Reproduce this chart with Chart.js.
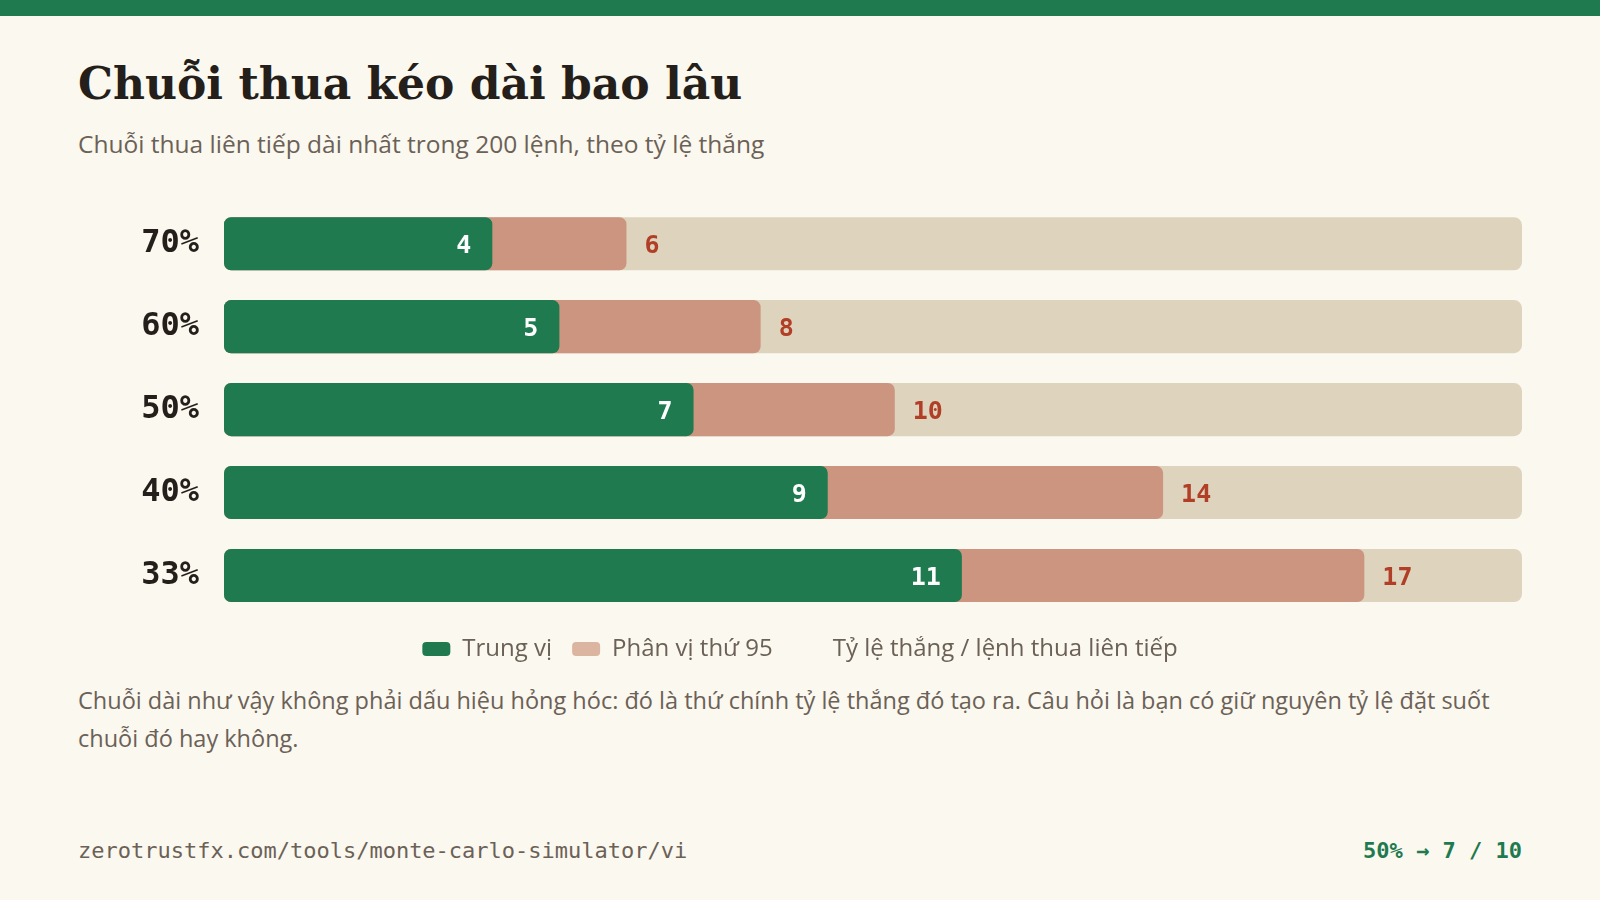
<!DOCTYPE html>
<html lang="vi">
<head>
<meta charset="utf-8">
<title>Chuỗi thua kéo dài bao lâu</title>
<script src="https://cdn.jsdelivr.net/npm/chart.js@4.4.1/dist/chart.umd.min.js"></script>
<style>
    html, body { margin: 0; padding: 0; }
    body {
        width: 1600px; height: 900px; position: relative; overflow: hidden;
        background: #fbf8f0; font-family: "Open Sans", sans-serif;
    }
    .topbar { position: absolute; left: 0; top: 0; width: 1600px; height: 16px; background: #1f7a4f; }
    h1 {
        position: absolute; left: 78px; top: 56px; margin: 0;
        font: bold 44px "DejaVu Serif", serif; color: #241f1a; line-height: 56px;
    }
    .sub {
        position: absolute; left: 78px; top: 127px; margin: 0;
        font-size: 24.5px; line-height: 34px; color: #6b6156;
    }
    .chart-box { position: absolute; left: 78px; top: 166px; width: 1444px; height: 505px; }
    .note {
        position: absolute; left: 78px; top: 681px; width: 1444px; margin: 0;
        font-size: 23.5px; line-height: 38px; color: #6b6156;
    }
    .foot {
        position: absolute; left: 78px; top: 838px;
        font: 22px "DejaVu Sans Mono", monospace; color: #6b6156;
    }
    .foot-right {
        position: absolute; right: 78px; top: 838px;
        font: bold 22px "DejaVu Sans Mono", monospace; color: #1f7a4f;
    }
</style>
</head>
<body>
<div class="topbar"></div>
<h1>Chuỗi thua kéo dài bao lâu</h1>
<p class="sub">Chuỗi thua liên tiếp dài nhất trong 200 lệnh, theo tỷ lệ thắng</p>
<div class="chart-box"><canvas id="chartCanvas"></canvas></div>
<p class="note">Chuỗi dài như vậy không phải dấu hiệu hỏng hóc: đó là thứ chính tỷ lệ thắng đó tạo ra. Câu hỏi là bạn có giữ nguyên tỷ lệ đặt suốt chuỗi đó hay không.</p>
<div class="foot">zerotrustfx.com/tools/monte-carlo-simulator/vi</div>
<div class="foot-right">50% → 7 / 10</div>
<script>
// win rates and losing streak lengths
const winRates = ['70%', '60%', '50%', '40%', '33%'];
const median = [4, 5, 7, 9, 11];
const p95 = [6, 8, 10, 14, 17];
const xMax = 19.35;
const track = winRates.map(() => xMax);

const seriesNames = ['Trung vị', 'Phân vị thứ 95', 'Tỷ lệ thắng / lệnh thua liên tiếp'];

const green = '#1f7a4f';
const salmon = '#cc9580';
const salmonLegend = '#dcb5a0';
const trackColor = '#ded4be';
const red = '#b13e26';
const ink = '#241f1a';
const muted = '#6b6156';
const mono = '"DejaVu Sans Mono", monospace';

const valueLabels = {
    id: 'valueLabels',
    afterDatasetsDraw(chart) {
        const ctx = chart.ctx;
        ctx.save();
        ctx.font = 'bold 25px ' + mono;
        ctx.textBaseline = 'middle';
        chart.getDatasetMeta(0).data.forEach((bar, i) => {
            ctx.fillStyle = '#ffffff';
            ctx.textAlign = 'right';
            ctx.fillText(String(median[i]), bar.x - 21, bar.y + 3);
        });
        chart.getDatasetMeta(1).data.forEach((bar, i) => {
            ctx.fillStyle = red;
            ctx.textAlign = 'left';
            ctx.fillText(String(p95[i]), bar.x + 18, bar.y + 3);
        });
        ctx.restore();
    }
};

const barCommon = {
    grouped: false,
    barPercentage: 0.64,
    categoryPercentage: 1,
    borderSkipped: false
};

new Chart(document.getElementById('chartCanvas'), {
    type: 'bar',
    data: {
        labels: winRates,
        datasets: [
            { ...barCommon, label: seriesNames[0], data: median, backgroundColor: green, borderRadius: 7 },
            { ...barCommon, label: seriesNames[1], data: p95, backgroundColor: salmon, borderRadius: 7 },
            { ...barCommon, label: seriesNames[2], data: track, backgroundColor: trackColor, borderRadius: 8 }
        ]
    },
    options: {
        indexAxis: 'y',
        responsive: true,
        maintainAspectRatio: false,
        animation: false,
        layout: { padding: 0 },
        scales: {
            x: { display: false, min: 0, max: xMax },
            y: {
                grid: { display: false },
                border: { display: false },
                ticks: { color: ink, font: { family: mono, size: 32, weight: 'bold' }, padding: 17 },
                afterFit: (scale) => { scale.width = 146; }
            }
        },
        plugins: {
            tooltip: { enabled: false },
            legend: {
                position: 'bottom',
                labels: {
                    color: muted,
                    font: { family: '"Open Sans", sans-serif', size: 24 },
                    boxWidth: 28,
                    boxHeight: 14,
                    useBorderRadius: true,
                    borderRadius: 4,
                    padding: 20,
                    generateLabels: (chart) => {
                        const fills = [green, salmonLegend, 'rgba(0,0,0,0)'];
                        return seriesNames.map((name, i) => ({
                            text: name,
                            fillStyle: fills[i],
                            strokeStyle: 'rgba(0,0,0,0)',
                            lineWidth: 0,
                            borderRadius: 4,
                            fontColor: muted,
                            hidden: false,
                            datasetIndex: i
                        }));
                    }
                }
            }
        }
    },
    plugins: [valueLabels]
});
</script>
</body>
</html>
